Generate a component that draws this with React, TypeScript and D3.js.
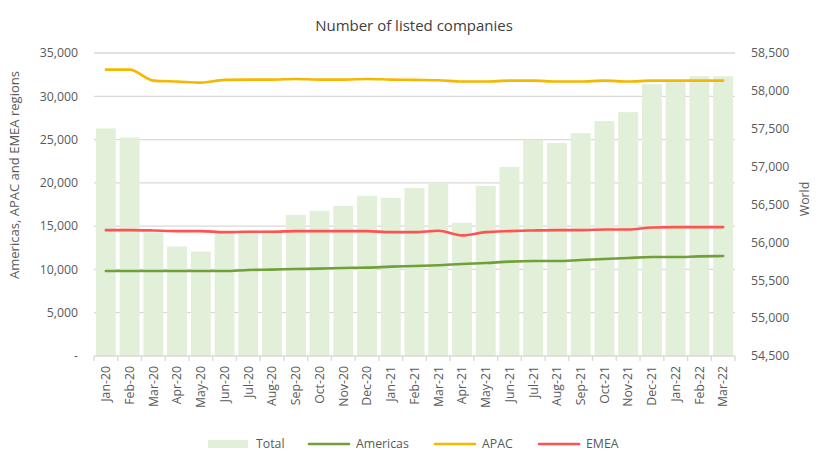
import React from 'react';
import * as d3 from 'd3';

const months = [
  'Jan-20', 'Feb-20', 'Mar-20', 'Apr-20', 'May-20', 'Jun-20', 'Jul-20', 'Aug-20', 'Sep-20',
  'Oct-20', 'Nov-20', 'Dec-20', 'Jan-21', 'Feb-21', 'Mar-21', 'Apr-21', 'May-21', 'Jun-21',
  'Jul-21', 'Aug-21', 'Sep-21', 'Oct-21', 'Nov-21', 'Dec-21', 'Jan-22', 'Feb-22', 'Mar-22',
];

const total = [
  57505, 57385, 56130, 55945, 55878, 56140, 56158, 56160, 56364,
  56417, 56482, 56614, 56588, 56719, 56781, 56259, 56746, 56996,
  57355, 57311, 57443, 57601, 57719, 58088, 58120, 58193, 58193,
];

const americas = [
  9820, 9820, 9820, 9820, 9820, 9820, 9940, 9980, 10050,
  10090, 10170, 10210, 10320, 10400, 10480, 10630, 10740, 10900,
  10970, 10970, 11090, 11200, 11320, 11430, 11430, 11510, 11550,
];

const apac = [
  33080, 33080, 31810, 31700, 31580, 31890, 31930, 31930, 32000,
  31930, 31930, 32000, 31930, 31890, 31850, 31700, 31700, 31810,
  31810, 31700, 31700, 31810, 31700, 31810, 31810, 31810, 31810,
];

const emea = [
  14540, 14540, 14500, 14430, 14430, 14310, 14350, 14350, 14430,
  14430, 14430, 14430, 14310, 14310, 14470, 13930, 14310, 14430,
  14500, 14540, 14540, 14620, 14620, 14850, 14890, 14890, 14890,
];

const leftTicks = [0, 5000, 10000, 15000, 20000, 25000, 30000, 35000];
const rightTicks = [54500, 55000, 55500, 56000, 56500, 57000, 57500, 58000, 58500];

const W = 827;
const H = 472;
const margin = { top: 53, right: 92, bottom: 116, left: 94 };
const FONT = '"Open Sans", "Noto Sans", sans-serif';
const TXT = '#595959';
const GRID = '#d9d9d9';
const FS = 12.3;

const series = [
  { name: 'Americas', values: americas, color: '#70a03a' },
  { name: 'APAC', values: apac, color: '#f5b800' },
  { name: 'EMEA', values: emea, color: '#ff5353' },
];

export default function App() {
  const innerW = W - margin.left - margin.right;
  const innerH = H - margin.top - margin.bottom;

  const x = d3.scaleBand<string>().domain(months).range([0, innerW]).paddingInner(0.16).paddingOuter(0.08);
  const yL = d3.scaleLinear().domain([0, 35000]).range([innerH, 0]);
  const yR = d3.scaleLinear().domain([54500, 58500]).range([innerH, 0]);
  const step = innerW / months.length;
  const fmt = d3.format(',');

  const line = d3
    .line<number>()
    .x((_, i) => (x(months[i]) as number) + x.bandwidth() / 2)
    .y((d) => yL(d))
    .curve(d3.curveMonotoneX);

  const legendItems = [
    { name: 'Total', x: 208, kind: 'rect', color: '#e2efd9' },
    { name: 'Americas', x: 308, kind: 'line', color: series[0].color },
    { name: 'APAC', x: 434, kind: 'line', color: series[1].color },
    { name: 'EMEA', x: 538, kind: 'line', color: series[2].color },
  ];

  return (
    <svg width={W} height={H} style={{ position: 'absolute', left: 0, top: 0, background: '#fff' }} fontFamily={FONT}>
      <text x={414} y={31} textAnchor="middle" fontSize={15} fill="#404040">
        Number of listed companies
      </text>
      <g transform={`translate(${margin.left},${margin.top})`}>
        {leftTicks.slice(1).map((t) => (
          <line key={t} x1={0} x2={innerW} y1={yL(t)} y2={yL(t)} stroke={GRID} strokeWidth={1.3} />
        ))}
        {months.map((m, i) => (
          <rect
            key={m}
            x={x(m)}
            y={yR(total[i])}
            width={x.bandwidth()}
            height={innerH - yR(total[i])}
            fill="#e2efd9"
          />
        ))}
        <line x1={0} x2={innerW} y1={innerH} y2={innerH} stroke={GRID} strokeWidth={1.3} />
        {d3.range(months.length + 1).map((i) => (
          <line key={i} x1={i * step} x2={i * step} y1={innerH} y2={innerH + 5} stroke={GRID} strokeWidth={1.3} />
        ))}
        {series.map((s) => (
          <path key={s.name} d={line(s.values) as string} fill="none" stroke={s.color} strokeWidth={2.6} strokeLinecap="round" />
        ))}
        {leftTicks.map((t) => (
          <text key={t} x={-16} y={yL(t)} dy="0.35em" textAnchor="end" fontSize={FS} fill={TXT}>
            {t === 0 ? '-' : fmt(t)}
          </text>
        ))}
        {rightTicks.map((t) => (
          <text key={t} x={innerW + 16} y={yR(t)} dy="0.35em" textAnchor="start" fontSize={FS} fill={TXT}>
            {fmt(t)}
          </text>
        ))}
        {months.map((m) => (
          <text
            key={m}
            transform={`translate(${(x(m) as number) + x.bandwidth() / 2},${innerH + 10}) rotate(-90)`}
            dy="0.35em"
            textAnchor="end"
            fontSize={FS}
            fill={TXT}
          >
            {m}
          </text>
        ))}
      </g>
      <text
        transform="translate(19,175) rotate(-90)"
        textAnchor="middle"
        fontSize={FS}
        fill={TXT}
        textLength={208}
        lengthAdjust="spacingAndGlyphs"
      >
        Americas, APAC and EMEA regions
      </text>
      <text transform="translate(809,199) rotate(-90)" textAnchor="middle" fontSize={FS} fill={TXT}>
        World
      </text>
      {legendItems.map((l) => (
        <g key={l.name} transform={`translate(${l.x},444)`}>
          {l.kind === 'rect' ? (
            <rect x={0} y={-4} width={40} height={8} fill={l.color} />
          ) : (
            <line x1={1} x2={41} y1={0} y2={0} stroke={l.color} strokeWidth={2.6} strokeLinecap="round" />
          )}
          <text x={48} y={0} dy="0.35em" fontSize={FS} fill={TXT}>
            {l.name}
          </text>
        </g>
      ))}
    </svg>
  );
}
